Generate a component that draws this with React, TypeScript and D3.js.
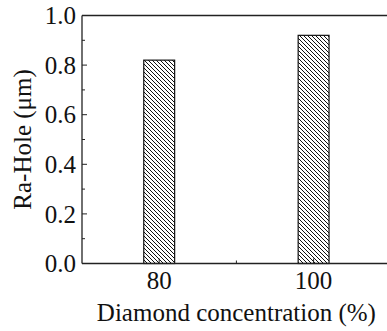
import React from "react";
import * as d3 from "d3";

const categories = [80, 100];
const values = [0.82, 0.92];
const yTicks = [0, 0.2, 0.4, 0.6, 0.8, 1.0];
const yMinorTicks = [0.1, 0.3, 0.5, 0.7, 0.9];
const xMinorTicks = [90];

const W = 387;
const H = 331;
const left = 82;
const top = 15.5;
const bottom = 263.5;

export default function App() {
  const x = d3.scaleLinear().domain([70, 110]).range([left, left + 40 * 7.72]);
  const y = d3.scaleLinear().domain([0, 1]).range([bottom, top]);
  const barHalf = 2;
  const font = "'Liberation Serif', 'Times New Roman', serif";
  const axisColor = "#222";
  const fs = 25;
  return (
    <svg width={W} height={H} style={{ position: "absolute", left: 0, top: 0 }}>
      <defs>
        <pattern id="hatch" patternUnits="userSpaceOnUse" width={4} height={4}>
          <path d="M0,0 L4,4 M-1,3 L1,5 M3,-1 L5,1" stroke="#111" strokeWidth={1} />
        </pattern>
      </defs>
      {categories.map((c, i) => (
        <rect
          key={c}
          x={x(c - barHalf)}
          y={y(values[i])}
          width={x(c + barHalf) - x(c - barHalf)}
          height={y(0) - y(values[i])}
          fill="url(#hatch)"
          stroke="#111"
          strokeWidth={1.2}
        />
      ))}
      <line x1={left} x2={W} y1={top} y2={top} stroke={axisColor} strokeWidth={1.3} />
      <line x1={left} x2={W} y1={bottom} y2={bottom} stroke={axisColor} strokeWidth={1.3} />
      <line x1={left} x2={left} y1={top} y2={bottom} stroke={axisColor} strokeWidth={1.3} />
      {yTicks.map((t) => (
        <g key={t}>
          <line x1={left} x2={left + 5} y1={y(t)} y2={y(t)} stroke={axisColor} strokeWidth={1} />
          <text
            x={left - 6}
            y={y(t)}
            dy="0.35em"
            textAnchor="end"
            fontFamily={font}
            fontSize={fs}
            fill="#111"
          >
            {d3.format(".1f")(t)}
          </text>
        </g>
      ))}
      {yMinorTicks.map((t) => (
        <line key={t} x1={left} x2={left + 3} y1={y(t)} y2={y(t)} stroke={axisColor} strokeWidth={1} />
      ))}
      {categories.map((c) => (
        <g key={c}>
          <line x1={x(c)} x2={x(c)} y1={bottom} y2={bottom - 5} stroke={axisColor} strokeWidth={1} />
          <text x={x(c)} y={289} textAnchor="middle" fontFamily={font} fontSize={fs} fill="#111">
            {c}
          </text>
        </g>
      ))}
      {xMinorTicks.map((t) => (
        <line key={t} x1={x(t)} x2={x(t)} y1={bottom} y2={bottom - 3} stroke={axisColor} strokeWidth={1} />
      ))}
      <text x={x(90)} y={321} textAnchor="middle" fontFamily={font} fontSize={fs} fill="#111">
        Diamond concentration (%)
      </text>
      <text
        transform={`translate(31,${(top + bottom) / 2}) rotate(-90)`}
        textAnchor="middle"
        fontFamily={font}
        fontSize={fs}
        fill="#111"
      >
        Ra-Hole (μm)
      </text>
    </svg>
  );
}
